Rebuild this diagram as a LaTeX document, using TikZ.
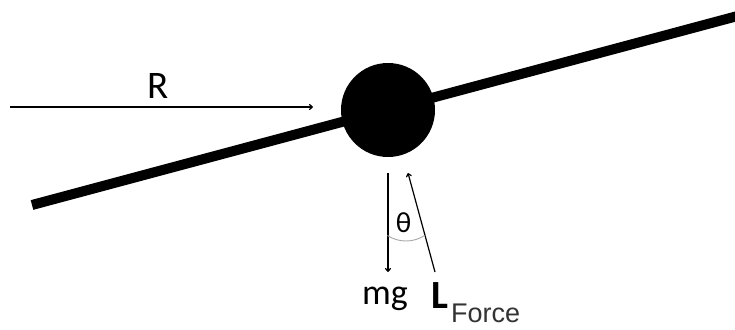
\documentclass[tikz,border=0pt]{standalone}
\usepackage{fontspec}
\usetikzlibrary{arrows.meta}
\newfontfamily\carlitofont{Carlito}
\newfontfamily\libsansfont{Liberation Sans}
\tikzset{
  force/.style={line width=1.2pt, -{To[length=4pt,width=6pt]}},
  rod/.style={line width=10pt, line cap=butt},
  anglearc/.style={gray!70, line width=0.9pt},
  txt/.style={inner sep=0pt}
}
\begin{document}
\begin{tikzpicture}[x=1pt,y=-1pt]
\useasboundingbox (0,0) rectangle (735,329);
% rod
\coordinate (rodL) at (32,205);
\coordinate (rodR) at (745,14);
\draw[rod] (rodL) -- (rodR);
% ball
\node[circle, fill=black, minimum size=94pt, inner sep=0pt] (ball) at (388,110) {};
% R arrow
\coordinate (Rstart) at (10,107);
\coordinate (Rend) at (313,107);
\draw[force] (Rstart) -- (Rend);
\node[txt, anchor=base, font=\carlitofont\fontsize{39}{42}\selectfont] (Rlbl) at (158,98) {R};
% mg arrow
\coordinate (mgtop) at (388,173);
\coordinate (mgbot) at (388,272);
\draw[force] (mgtop) -- (mgbot);
\node[txt, anchor=base, font=\carlitofont\fontsize{36}{40}\selectfont] (mglbl) at (385,304) {mg};
% L arrow
\coordinate (Lbot) at (435,272);
\coordinate (Ltop) at (408,173);
\draw[force] (Lbot) -- (Ltop);
% angle arc
\coordinate (arcC) at (406,207);
\draw[anglearc] (arcC) ++(123:34) arc[start angle=123, end angle=57, radius=34];
\node[txt, font=\carlitofont\fontsize{29}{32}\selectfont] (theta) at (403.5,222.5) {θ};
% L_Force label
\node[txt, anchor=base west, font=\carlitofont\bfseries\fontsize{40}{44}\selectfont] (Llbl) at (431,308) {L};
\node[txt, anchor=base west, text=black!80, font=\libsansfont\fontsize{27}{30}\selectfont] (Fsub) at (451,322) {Force};
\end{tikzpicture}
\end{document}
